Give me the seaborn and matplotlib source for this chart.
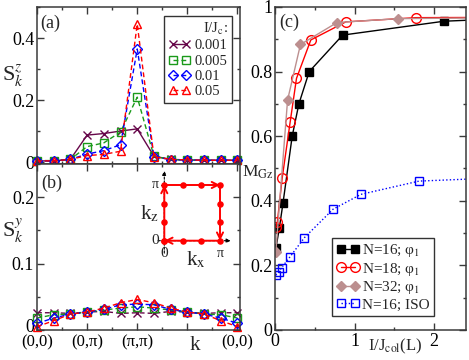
import numpy as np
import matplotlib
matplotlib.use("Agg")
import matplotlib.pyplot as plt
import matplotlib.transforms as mtransforms
from matplotlib.ticker import MultipleLocator, FuncFormatter
import seaborn as sns

# ---------------- data ----------------
k_index = [0, 1, 2, 3, 4, 5, 6, 7, 8, 9, 10, 11, 12]
k_tick_pos = [0, 3, 6, 9, 12]
k_tick_labels = ["(0,0)", "(0,π)", "(π,π)", "", "(0,0)"]

coupling_labels = ["0.001", "0.005", "0.01", "0.05"]

sz_0001 = [0.005, 0.005, 0.010, 0.088, 0.093, 0.101, 0.108, 0.020, 0.010, 0.008, 0.007, 0.007, 0.007]
sz_0005 = [0.006, 0.006, 0.010, 0.051, 0.063, 0.098, 0.210, 0.020, 0.009, 0.008, 0.007, 0.007, 0.007]
sz_001 = [0.005, 0.005, 0.010, 0.027, 0.038, 0.057, 0.365, 0.019, 0.009, 0.008, 0.007, 0.007, 0.007]
sz_005 = [0.005, 0.005, 0.010, 0.022, 0.026, 0.036, 0.445, 0.018, 0.010, 0.008, 0.007, 0.007, 0.007]

sy_0001 = [0.026, 0.026, 0.025, 0.027, 0.028, 0.025, 0.026, 0.025, 0.028, 0.027, 0.025, 0.026, 0.026]
sy_0005 = [0.018, 0.023, 0.024, 0.027, 0.030, 0.033, 0.035, 0.033, 0.030, 0.027, 0.024, 0.023, 0.018]
sy_001 = [0.010, 0.018, 0.024, 0.027, 0.031, 0.038, 0.039, 0.038, 0.031, 0.027, 0.024, 0.018, 0.010]
sy_005 = [0.005, 0.014, 0.024, 0.027, 0.033, 0.041, 0.046, 0.041, 0.033, 0.027, 0.024, 0.014, 0.005]

# inset path in units of pi
path_kx = [0, 0, 0, 0, 1/3, 2/3, 1, 1, 1, 1, 2/3, 1/3, 0]
path_kz = [0, 1/3, 2/3, 1, 1, 1, 1, 2/3, 1/3, 0, 0, 0, 0]

# panel (c)
series_c_labels = ["N=16; φ$_1$", "N=18; φ$_1$", "N=32; φ$_1$", "N=16; ISO"]
n16_x = [0.0125, 0.054, 0.10, 0.216, 0.30, 0.43, 0.85, 2.125, 3.0]
n16_y = [0.255, 0.315, 0.392, 0.600, 0.700, 0.800, 0.913, 0.956, 0.965]
n18_x = [0.010, 0.030, 0.090, 0.190, 0.270, 0.450, 0.890, 1.770, 3.0]
n18_y = [0.320, 0.335, 0.470, 0.643, 0.779, 0.898, 0.954, 0.967, 0.968]
n32_x = [0.010, 0.158, 0.320, 0.780, 1.550, 3.0]
n32_y = [0.242, 0.712, 0.884, 0.952, 0.964, 0.967]
iso_x = [0.010, 0.050, 0.083, 0.190, 0.370, 0.730, 1.080, 1.810, 3.0]
iso_y = [0.170, 0.181, 0.193, 0.227, 0.286, 0.374, 0.420, 0.461, 0.473]

# ---------------- style ----------------
sns.set_theme(style="ticks")
plt.rcParams.update({
    "font.family": ["Liberation Serif", "DejaVu Serif"],
    "mathtext.fontset": "stix",
    "xtick.direction": "in", "ytick.direction": "in",
    "xtick.top": True, "ytick.right": True,
    "xtick.major.size": 5, "ytick.major.size": 5,
    "xtick.minor.size": 2.5, "ytick.minor.size": 2.5,
    "xtick.major.width": 1.0, "ytick.major.width": 1.0,
    "xtick.minor.width": 1.0, "ytick.minor.width": 1.0,
    "axes.linewidth": 1.1,
    "axes.edgecolor": "#3a3a3a",
    "xtick.color": "#3a3a3a", "ytick.color": "#3a3a3a",
    "xtick.labelcolor": "black", "ytick.labelcolor": "black",
    "xtick.major.pad": 2, "ytick.major.pad": 2,
})

W, H = 469, 360
fig = plt.figure(figsize=(W / 100, H / 100), dpi=100)

def fx(px):
    return px / W

def fy(py):
    return 1 - py / H

ax_a = fig.add_axes([fx(37), fy(164), (240 - 37) / W, (164 - 7) / H])
ax_b = fig.add_axes([fx(37), fy(330), (240 - 37) / W, (330 - 164) / H])
ax_c = fig.add_axes([fx(275), fy(330), (466 - 275) / W, (330 - 7) / H])

purple = "#67074a"
green = "#1a9a1a"
blue = "#0000ff"
red = "#ff0000"
brown = "#bc8f8f"

def draw(ax, x, y, color, marker, dashed, ms, label=None, lw=1.0, filled=False,
         clip=False, dots=False):
    n_before = len(ax.lines)
    sns.lineplot(x=x, y=y, ax=ax, estimator=None, sort=False, label=label,
                 legend=False)
    line = ax.lines[n_before]
    line.set_color(color)
    line.set_marker(marker)
    line.set_markersize(ms)
    line.set_markeredgecolor(color)
    line.set_markerfacecolor(color if filled else "none")
    line.set_markeredgewidth(1.0)
    line.set_linewidth(lw)
    if dashed:
        line.set_linestyle((0, (3.5, 2.2)))
    if dots:
        line.set_linestyle((0, (1, 1.6)))
    line.set_clip_on(clip)
    return line

specs = [(purple, "x", 6.0), (green, "s", 5.5), (blue, "D", 4.8), (red, "^", 6.0)]

# ---------------- panel (a) ----------------
sz_all = [sz_0001, sz_0005, sz_001, sz_005]
handles_a = []
for i, (vals, (col, mk, ms)) in enumerate(zip(sz_all, specs)):
    h = draw(ax_a, k_index, vals, col, mk, dashed=(i > 0), ms=ms, label=coupling_labels[i])
    handles_a.append(h)

ax_a.set_xlim(0, 12.15)
ax_a.set_ylim(-0.005, 0.5)
ax_a.set_xticks(k_tick_pos)
ax_a.xaxis.set_minor_locator(MultipleLocator(1.5))
ax_a.set_xticklabels([])
ax_a.yaxis.set_major_locator(MultipleLocator(0.2))
ax_a.yaxis.set_minor_locator(MultipleLocator(0.1))
ax_a.yaxis.set_major_formatter(FuncFormatter(lambda v, p: f"{v:g}"))
ax_a.tick_params(axis="y", labelsize=13)
ax_a.set_xlabel("")
ax_a.set_ylabel("")

leg_a = ax_a.legend(handles=handles_a, labels=coupling_labels, title="I/J$_{\\rm c}$:",
                    loc="upper right", bbox_to_anchor=(0.96, 0.94), fontsize=10.5,
                    title_fontsize=10.5, frameon=True, fancybox=False, numpoints=2,
                    handlelength=1.5, handletextpad=0.3, borderpad=0.3,
                    labelspacing=0.15, borderaxespad=0.0)
leg_a.get_frame().set_edgecolor("black")
leg_a.get_frame().set_linewidth(1.0)
leg_a._legend_box.align = "right"

# ---------------- panel (b) ----------------
sy_all = [sy_0001, sy_0005, sy_001, sy_005]
for i, (vals, (col, mk, ms)) in enumerate(zip(sy_all, specs)):
    draw(ax_b, k_index, vals, col, mk, dashed=True, ms=ms)

ax_b.set_xlim(0, 12.15)
ax_b.set_ylim(0, 0.25)
ax_b.set_xticks(k_tick_pos)
ax_b.set_xticklabels(k_tick_labels, fontsize=12)
ax_b.xaxis.set_minor_locator(MultipleLocator(1.5))
ax_b.yaxis.set_major_locator(MultipleLocator(0.1))
ax_b.yaxis.set_minor_locator(MultipleLocator(0.05))
ax_b.yaxis.set_major_formatter(FuncFormatter(lambda v, p: f"{v:g}"))
ax_b.tick_params(axis="y", labelsize=13)
ax_b.tick_params(axis="x", pad=3.5)
ax_b.set_xlabel("")
ax_b.set_ylabel("")
trans_b = mtransforms.blended_transform_factory(ax_b.transData, ax_b.transAxes)
ax_b.text(9.45, -0.035, "k", transform=trans_b, ha="center", va="top", fontsize=15)

# inset
ax_in = fig.add_axes([fx(164.3), fy(240.7), 55.7 / W, 55.7 / H])
pkx = [v * np.pi for v in path_kx]
pkz = [v * np.pi for v in path_kz]
ax_in.annotate("", xy=(0, np.pi + 0.8), xytext=(0, -0.7),
               arrowprops=dict(arrowstyle="-|>", color="black", lw=0.8, ls=(0, (2, 1.5)),
                               mutation_scale=6, shrinkA=0, shrinkB=0), annotation_clip=False)
ax_in.annotate("", xy=(np.pi + 0.6, 0), xytext=(-0.35, 0),
               arrowprops=dict(arrowstyle="-|>", color="black", lw=0.8, ls=(0, (2, 1.5)),
                               mutation_scale=6, shrinkA=0, shrinkB=0), annotation_clip=False)
ax_in.plot([-0.2, 0], [np.pi, np.pi], color="black", lw=0.8, clip_on=False)
corners = [(0, 0), (0, np.pi), (np.pi, np.pi), (np.pi, 0), (0, 0)]
for (x0, y0), (x1, y1) in zip(corners[:-1], corners[1:]):
    ax_in.annotate("", xy=(x1, y1), xytext=(x0, y0),
                   arrowprops=dict(arrowstyle="->", color=red, lw=1.4, mutation_scale=11,
                                   shrinkA=0, shrinkB=0), annotation_clip=False)
sns.scatterplot(x=pkx, y=pkz, ax=ax_in, color=red, s=22, edgecolor=red, linewidth=0,
                clip_on=False, zorder=5)
ax_in.set_xlim(0, np.pi)
ax_in.set_ylim(0, np.pi)
ax_in.axis("off")
ax_in.text(-0.3, np.pi, "π", ha="right", va="center", fontsize=10)
ax_in.text(-0.3, 0, "0", ha="right", va="center", fontsize=11)
ax_in.text(0, -0.35, "0", ha="center", va="top", fontsize=11)
ax_in.text(np.pi, -0.35, "π", ha="center", va="top", fontsize=10)
ax_in.text(-0.85, 1.5, "k$_{\\rm z}$", ha="center", va="center", fontsize=15)
ax_in.text(1.8, -1.1, "k$_{\\rm x}$", ha="center", va="center", fontsize=15)

# ---------------- panel (c) ----------------
h16 = draw(ax_c, n16_x, n16_y, "black", "s", dashed=False, ms=6.0, filled=True, clip=True)
h18 = draw(ax_c, n18_x, n18_y, red, "o", dashed=False, ms=7.0, filled=False, clip=True)
h32 = draw(ax_c, n32_x, n32_y, brown, "D", dashed=False, ms=5.0, filled=True, clip=True, lw=1.0)
hiso = draw(ax_c, iso_x, iso_y, blue, "s", dashed=False, ms=5.5, filled=False, clip=True,
            dots=True)
ax_c.set_xlim(0, 2.4)
ax_c.set_ylim(0, 1)
ax_c.xaxis.set_major_locator(MultipleLocator(1))
ax_c.xaxis.set_minor_locator(MultipleLocator(0.5))
ax_c.yaxis.set_major_locator(MultipleLocator(0.2))
ax_c.yaxis.set_minor_locator(MultipleLocator(0.1))
fmt = FuncFormatter(lambda v, p: f"{v:g}")
ax_c.xaxis.set_major_formatter(fmt)
ax_c.yaxis.set_major_formatter(fmt)
ax_c.tick_params(labelsize=13)
ax_c.set_xlabel("")
ax_c.set_ylabel("")
ax_c.text(0.63, -0.02, "I/J$_{\\rm col}$(L)", transform=ax_c.transAxes, ha="center",
          va="top", fontsize=12)
leg_c = ax_c.legend(handles=[h16, h18, h32, hiso], labels=series_c_labels,
                    loc="lower left", bbox_to_anchor=(0.297, 0.043), fontsize=11,
                    frameon=True, fancybox=False, numpoints=2, handlelength=1.5,
                    handletextpad=0.2, borderpad=0.3, labelspacing=0.1,
                    borderaxespad=0.0)
leg_c.get_frame().set_edgecolor("black")
leg_c.get_frame().set_linewidth(1.0)

# ---------------- labels ----------------
fig.text(fx(40), fy(23), "(a)", ha="left", va="center", fontsize=13)
fig.text(fx(41), fy(183), "(b)", ha="left", va="center", fontsize=13)
fig.text(fx(279), fy(22), "(c)", ha="left", va="center", fontsize=13)
fig.text(fx(2), fy(76), "S$^{z}_{k}$", ha="left", va="center", fontsize=16)
fig.text(fx(2), fy(231), "S$^{y}_{k}$", ha="left", va="center", fontsize=16)
fig.text(fx(242), fy(172), "M$_{\\rm Gz}$", ha="left", va="center", fontsize=12.5)

# lift the "0" label of panel (b) a little so it clears the k-axis labels
fig.canvas.draw()
for lbl in ax_b.get_yticklabels():
    if lbl.get_text() == "0":
        lbl.set_transform(lbl.get_transform() +
                          mtransforms.ScaledTranslation(0, 3 / 72, fig.dpi_scale_trans))

fig.savefig("out.png", dpi=100)
